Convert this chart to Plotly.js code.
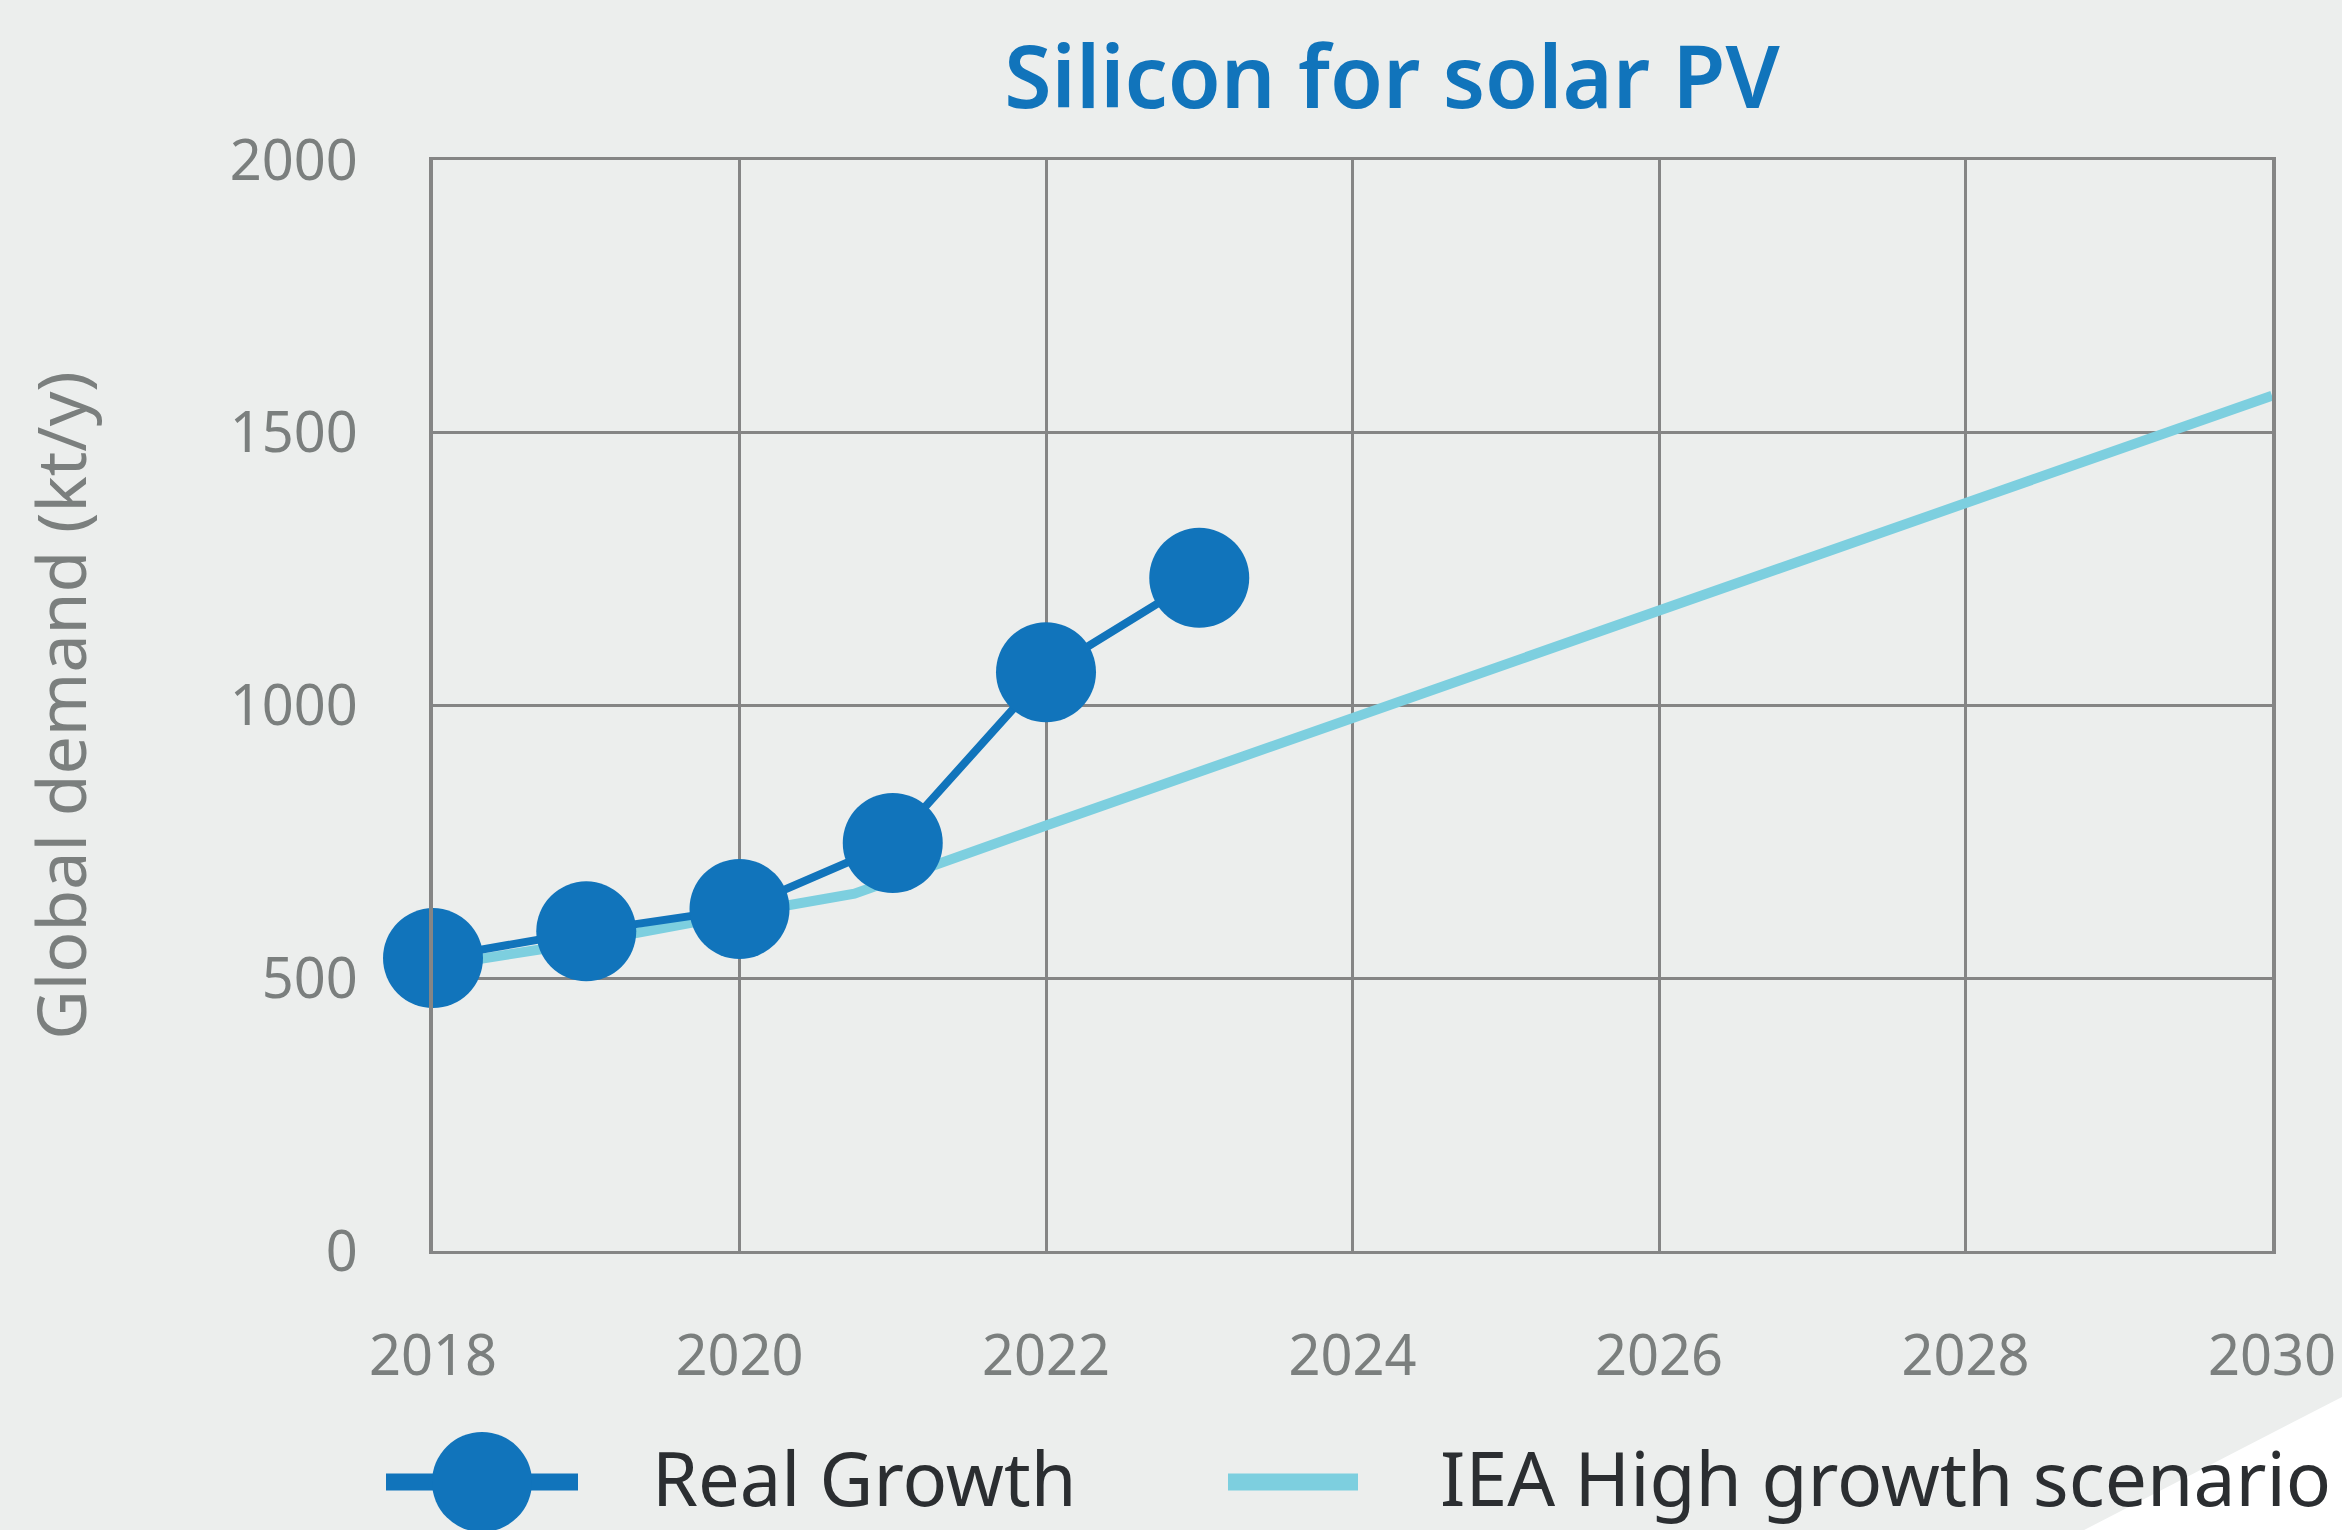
<!DOCTYPE html>
<html>
<head>
<meta charset="utf-8">
<script src="https://cdn.plot.ly/plotly-3.0.1.min.js"></script>
<style>
html,body{margin:0;padding:0;background:#eceeed;}
#chart{width:2342px;height:1530px;}
</style>
</head>
<body>
<div id="chart"></div>
<script>
// Data
const realYears = [2018, 2019, 2020, 2021, 2022, 2023];
const realDemand = [537, 586, 627, 748, 1061, 1234];
const ieaYears = [2018, 2019, 2020, 2020.75, 2022, 2024, 2026, 2028, 2030];
const ieaDemand = [522, 566, 618, 655, 780, 978, 1175, 1372, 1568];
const xTickVals = [2018, 2020, 2022, 2024, 2026, 2028, 2030];
const yTickVals = [0, 500, 1000, 1500, 2000];
const seriesNames = ["Real Growth", "IEA High growth scenario"];
const chartTitle = "Silicon for solar PV";
const yTitle = "Global demand (kt/y)";

const darkBlue = "#1174bb";
const lightBlue = "#7dcfdf";
const gridCol = "#858585";
const tickCol = "#7b7f7e";
const FONT = "Noto Sans, sans-serif";

// plot area in pixels (for the hand-placed legend)
const W = 2342, H = 1530, L = 433, R = 70, T = 160, B = 279;
const pw = W - L - R, ph = H - T - B;
const px = v => (v - L) / pw;
const py = v => (H - B - v) / ph;

const traces = [
  {
    x: ieaYears, y: ieaDemand, name: seriesNames[1], type: "scatter", mode: "lines",
    line: {color: lightBlue, width: 10}, hoverinfo: "x+y"
  },
  {
    x: realYears, y: realDemand, name: seriesNames[0], type: "scatter", mode: "lines+markers",
    line: {color: darkBlue, width: 8},
    marker: {color: darkBlue, size: 100, line: {width: 0}},
    cliponaxis: false
  }
];

const legendY = 1482;
const shapes = [
  // white corner
  {type: "path", xref: "paper", yref: "paper", layer: "below",
   path: `M${px(2400)},${py(1367)} L${px(2400)},${py(1560)} L${px(2026)},${py(1560)} Z`,
   fillcolor: "#ffffff", line: {width: 0}},
  // legend: real growth
  {type: "line", xref: "paper", yref: "paper", x0: px(386), x1: px(578), y0: py(legendY), y1: py(legendY),
   line: {color: darkBlue, width: 17}},
  {type: "circle", xref: "paper", yref: "paper", x0: px(432), x1: px(532), y0: py(legendY + 50), y1: py(legendY - 50),
   fillcolor: darkBlue, line: {width: 0}},
  // legend: IEA
  {type: "line", xref: "paper", yref: "paper", x0: px(1228), x1: px(1358), y0: py(legendY), y1: py(legendY),
   line: {color: lightBlue, width: 17}}
];

const annotations = [
  {xref: "paper", yref: "paper", x: px(650), y: py(1477), xanchor: "left", yanchor: "middle",
   text: seriesNames[0], showarrow: false, font: {family: FONT, size: 74, color: "#2b2e31"}},
  {xref: "paper", yref: "paper", x: px(1438), y: py(1477), xanchor: "left", yanchor: "middle",
   text: seriesNames[1], showarrow: false, font: {family: FONT, size: 75, color: "#2b2e31"}}
];

const layout = {
  width: W, height: H,
  paper_bgcolor: "#eceeed", plot_bgcolor: "#eceeed",
  margin: {l: L, r: R, t: T, b: B, pad: 0},
  showlegend: false,
  title: {text: chartTitle, x: 1392 / W, xref: "container", xanchor: "center",
          y: 1 - 78 / H, yref: "container", yanchor: "middle",
          font: {family: FONT, size: 86, color: darkBlue, weight: 600}},
  xaxis: {
    range: [2018, 2030], tickvals: xTickVals, ticktext: xTickVals.map(String),
    showgrid: true, gridcolor: gridCol, gridwidth: 3,
    showline: true, linecolor: gridCol, linewidth: 3, mirror: true,
    zeroline: false, ticks: "", ticklabelstandoff: 54,
    tickfont: {family: FONT, size: 56, color: tickCol}, fixedrange: true
  },
  yaxis: {
    range: [0, 2000], tickvals: yTickVals, ticktext: yTickVals.map(String),
    showgrid: true, gridcolor: gridCol, gridwidth: 3,
    showline: true, linecolor: gridCol, linewidth: 4, mirror: true,
    zeroline: false, ticks: "", ticklabelstandoff: 60,
    tickfont: {family: FONT, size: 56, color: tickCol}, fixedrange: true,
    title: {text: yTitle, standoff: 122, font: {family: FONT, size: 68, color: tickCol}}
  },
  shapes: shapes,
  annotations: annotations
};

Plotly.newPlot("chart", traces, layout, {displayModeBar: false, staticPlot: true});
</script>
</body>
</html>
